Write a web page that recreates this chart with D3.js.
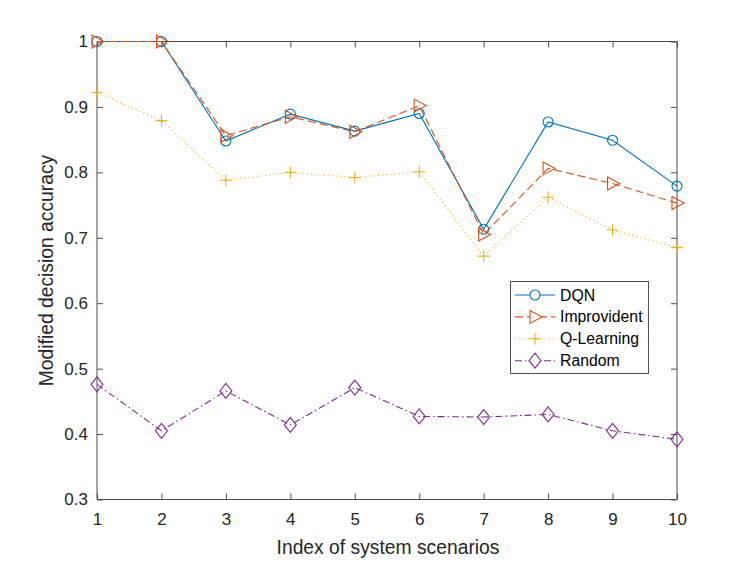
<!DOCTYPE html>
<html><head><meta charset="utf-8">
<script src="https://cdn.jsdelivr.net/npm/d3@7"></script>
<style>body{margin:0;background:#fff}svg{display:block}text{font-family:"Liberation Sans",Arial,sans-serif}</style>
</head><body><svg id="c" width="747" height="561"></svg>
<script>
const scenarios = [1,2,3,4,5,6,7,8,9,10];
const dqn = [1.000,1.000,0.848,0.889,0.863,0.890,0.713,0.877,0.849,0.779];
const improvident = [1.000,1.000,0.856,0.885,0.862,0.902,0.705,0.806,0.783,0.753];
const qlearning = [0.922,0.879,0.788,0.800,0.792,0.801,0.672,0.762,0.712,0.685];
const random = [0.476,0.405,0.466,0.414,0.471,0.427,0.426,0.430,0.405,0.392];
const yTicks = [0.3,0.4,0.5,0.6,0.7,0.8,0.9,1];
const seriesNames = ["DQN","Improvident","Q-Learning","Random"];

const series = [
  {name:seriesNames[0], vals:dqn, color:"#0072BD", dash:null, marker:"circle"},
  {name:seriesNames[1], vals:improvident, color:"#D95319", dash:"8,4", marker:"triangle"},
  {name:seriesNames[2], vals:qlearning, color:"#EDB120", dash:"1.2,3", marker:"plus"},
  {name:seriesNames[3], vals:random, color:"#7E2F8E", dash:"7,3,1.5,3", marker:"diamond"}
];

const svg = d3.select("#c");
const L=97, R=677, T=41.5, B=499.5;
const x = d3.scaleLinear().domain([1,10]).range([L,R]);
const y = d3.scaleLinear().domain([0.3,1]).range([B,T]);
const axisColor="#4d4d4d";

function markerPath(type){
  if(type==="circle") return d3.symbol().type(d3.symbolCircle).size(Math.PI*25)();
  if(type==="triangle") return "M-5,-6.5L7,0L-5,6.5Z";
  if(type==="plus") return "M-6,0L6,0M0,-6L0,6";
  if(type==="diamond") return "M0,-7.5L6,0L0,7.5L-6,0Z";
}

// axes
const gx = svg.append("g").attr("transform",`translate(0,${B})`)
  .call(d3.axisBottom(x).tickValues(scenarios).tickSize(-6).tickPadding(13.5).tickFormat(d3.format("d")));
const gxt = svg.append("g").attr("transform",`translate(0,${T})`)
  .call(d3.axisTop(x).tickValues(scenarios).tickSize(-6).tickFormat(""));
const gy = svg.append("g").attr("transform",`translate(${L},0)`)
  .call(d3.axisLeft(y).tickValues(yTicks).tickSize(-6).tickPadding(9).tickFormat(d=>d===1?"1":d3.format(".1f")(d)));
const gyr = svg.append("g").attr("transform",`translate(${R},0)`)
  .call(d3.axisRight(y).tickValues(yTicks).tickSize(-6).tickFormat(""));
[gx,gxt,gy,gyr].forEach(g=>{
  g.selectAll(".domain").attr("stroke",axisColor).attr("stroke-width",1);
  g.selectAll(".tick line").attr("stroke",axisColor);
  g.selectAll("text").attr("fill","#262626").style("font-size","17px");
});
gx.selectAll(".domain").attr("d",`M${L},0H${R}`);
gxt.selectAll(".domain").attr("d",`M${L},0H${R}`);
gy.selectAll(".domain").attr("d",`M0,${B}V${T}`);
gyr.selectAll(".domain").attr("d",`M0,${B}V${T}`);

// lines
const line = d3.line().x((d,i)=>x(scenarios[i])).y(d=>y(d));
series.forEach(s=>{
  svg.append("path").datum(s.vals).attr("d",line).attr("fill","none")
    .attr("stroke",s.color).attr("stroke-width",1.1).attr("stroke-dasharray",s.dash);
  svg.append("g").selectAll("path").data(s.vals).join("path")
    .attr("transform",(d,i)=>`translate(${x(scenarios[i])},${y(d)})`)
    .attr("d",markerPath(s.marker)).attr("fill","none")
    .attr("stroke",s.color).attr("stroke-width",1.1);
});

// labels
svg.append("text").attr("x",(L+R)/2 + 1).attr("y",554).attr("text-anchor","middle")
  .attr("fill","#262626").style("font-size","19.3px").text("Index of system scenarios");
svg.append("text").attr("transform",`translate(53,${(T+B)/2}) rotate(-90)`).attr("text-anchor","middle")
  .attr("fill","#262626").style("font-size","19.3px").text("Modified decision accuracy");

// legend
const lg = svg.append("g");
lg.append("rect").attr("x",510.5).attr("y",281.5).attr("width",138).attr("height",92)
  .attr("fill","#fff").attr("stroke",axisColor).attr("stroke-width",1);
series.forEach((s,i)=>{
  const yy = 295 + i*21.9;
  lg.append("line").attr("x1",515).attr("x2",555).attr("y1",yy).attr("y2",yy)
    .attr("stroke",s.color).attr("stroke-width",1.1).attr("stroke-dasharray",s.dash);
  lg.append("path").attr("transform",`translate(535,${yy})`).attr("d",markerPath(s.marker))
    .attr("fill","#fff").attr("stroke",s.color).attr("stroke-width",1.1);
  lg.append("text").attr("x",560).attr("y",yy+5.5).attr("fill","#000").style("font-size","15.8px").text(s.name);
});
</script></body></html>
